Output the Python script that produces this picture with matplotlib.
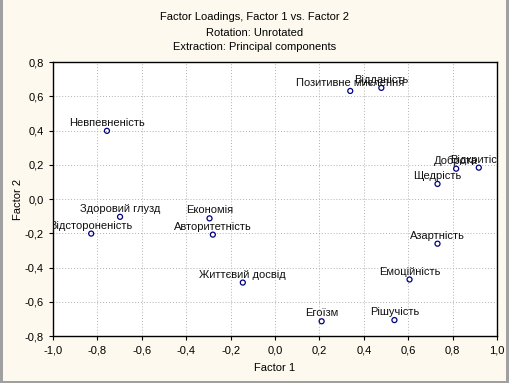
import matplotlib
matplotlib.use("Agg")
import matplotlib.pyplot as plt
from matplotlib.ticker import FuncFormatter
from matplotlib.patches import Rectangle
from matplotlib.transforms import offset_copy

plt.rcParams["font.family"] = ["Liberation Sans", "DejaVu Sans"]

# factor loadings
labels = ["Позитивне мислення", "Відданість", "Невпевненість", "Доброта",
          "Відкритість", "Щедрість", "Здоровий глузд", "Відстороненість",
          "Економія", "Авторитетність", "Життєвий досвід", "Азартність",
          "Емоційність", "Егоїзм", "Рішучість"]
factor1 = [0.339, 0.479, -0.757, 0.816, 0.918, 0.732, -0.698, -0.828,
           -0.295, -0.280, -0.145, 0.732, 0.606, 0.210, 0.538]
factor2 = [0.631, 0.649, 0.398, 0.177, 0.183, 0.088, -0.104, -0.202,
           -0.113, -0.208, -0.488, -0.261, -0.470, -0.714, -0.707]

ticks = [-1.0, -0.8, -0.6, -0.4, -0.2, 0.0, 0.2, 0.4, 0.6, 0.8, 1.0]
yticks = [-0.8, -0.6, -0.4, -0.2, 0.0, 0.2, 0.4, 0.6, 0.8]

bg = "#fdf9ee"
fig = plt.figure(figsize=(5.10, 3.83), dpi=100, facecolor=bg)
ax = fig.add_axes([53 / 510, 1 - 336 / 383, 444 / 510, 274 / 383])
ax.set_facecolor("white")

# window border
fig.patches.append(Rectangle((0, 0), 3 / 510, 1, transform=fig.transFigure,
                             facecolor="#a0a0a0", edgecolor="none"))
fig.patches.append(Rectangle((506 / 510, 0), 4 / 510, 1, transform=fig.transFigure,
                             facecolor="#a0a0a0", edgecolor="none"))
fig.patches.append(Rectangle((0, 0), 1, 2 / 383, transform=fig.transFigure,
                             facecolor="#a0a0a0", edgecolor="none"))

ax.scatter(factor1, factor2, s=13, facecolors="none", edgecolors="#000080",
           linewidths=0.9, zorder=3)
lift = offset_copy(ax.transData, fig=fig, x=0, y=3.5, units="points")
for lab, x, y in zip(labels, factor1, factor2):
    ax.text(x, y, lab, transform=lift, ha="center", va="baseline",
            fontsize=8, color="#111111", clip_on=True)

ax.set_xlim(-1.0, 1.0)
ax.set_ylim(-0.8, 0.8)
ax.set_xticks(ticks)
ax.set_yticks(yticks)
comma = FuncFormatter(lambda v, p: f"{v:.1f}".replace(".", ",").replace("-0,0", "0,0"))
ax.xaxis.set_major_formatter(comma)
ax.yaxis.set_major_formatter(comma)
ax.tick_params(labelsize=8, length=3, width=0.8, color="black", direction="out",
               top=False, right=False)
ax.grid(True, linestyle=(0, (1, 2)), color="#b0b0b0", linewidth=0.7)
for s in ax.spines.values():
    s.set_linewidth(1.0)

ax.set_xlabel("Factor 1", fontsize=8, labelpad=6)
ax.set_ylabel("Factor 2", fontsize=8, labelpad=1)

fig.text(0.5, 1 - 17 / 383, "Factor Loadings, Factor 1 vs. Factor 2",
         ha="center", va="center", fontsize=8)
fig.text(0.5, 1 - 33 / 383, "Rotation: Unrotated", ha="center", va="center", fontsize=8)
fig.text(0.5, 1 - 47 / 383, "Extraction: Principal components",
         ha="center", va="center", fontsize=8)

fig.savefig("out.png", dpi=100, facecolor=bg)
